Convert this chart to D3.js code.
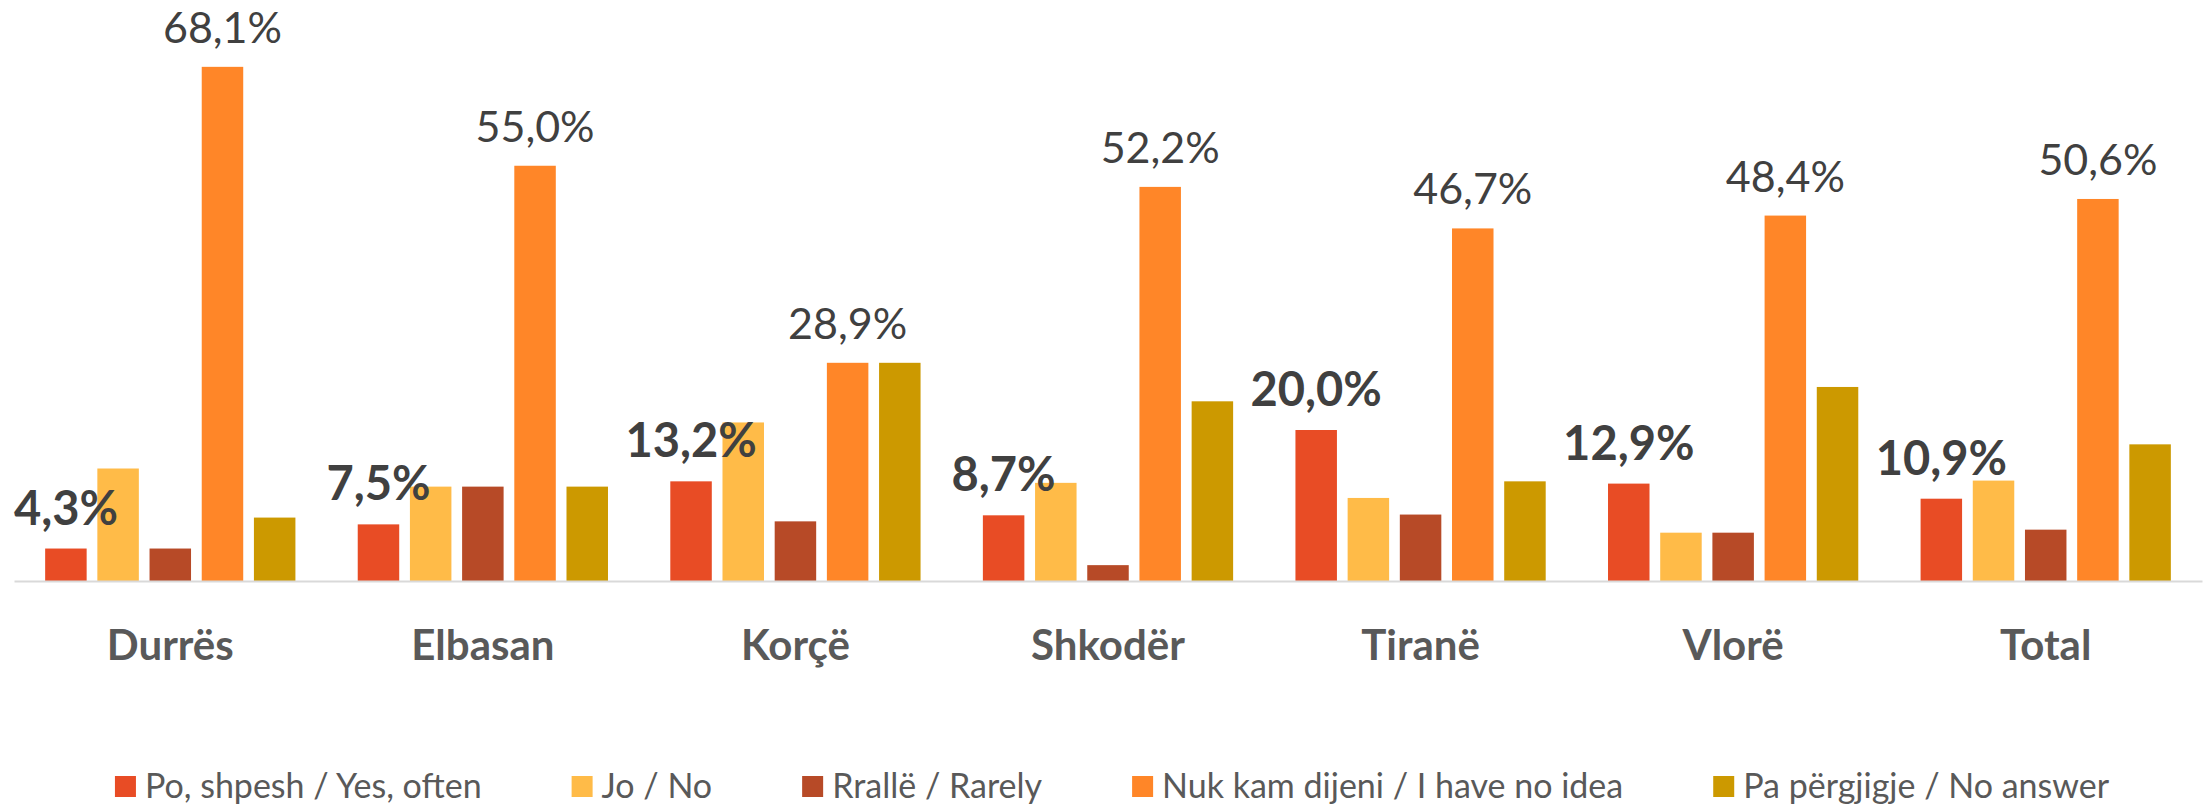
<!DOCTYPE html>
<html>
<head>
<meta charset="utf-8">
<script src="https://cdn.jsdelivr.net/npm/d3@7"></script>
<style>
  body { margin: 0; background: #fff; }
  svg { display: block; font-family: Lato, "Open Sans", sans-serif; }
</style>
</head>
<body>
<script>
// data
const cities = ["Durrës", "Elbasan", "Korçë", "Shkodër", "Tiranë", "Vlorë", "Total"]
const series = ["Po, shpesh / Yes, often", "Jo / No", "Rrallë / Rarely", "Nuk kam dijeni / I have no idea", "Pa përgjigje / No answer"]
const often   = [4.3, 7.5, 13.2, 8.7, 20.0, 12.9, 10.9]
const no      = [14.9, 12.5, 21.0, 13.0, 11.0, 6.4, 13.3]
const rarely  = [4.3, 12.5, 7.9, 2.1, 8.8, 6.4, 6.8]
const noIdea  = [68.1, 55.0, 28.9, 52.2, 46.7, 48.4, 50.6]
const noAns   = [8.4, 12.5, 28.9, 23.8, 13.2, 25.7, 18.1]
const colors  = ["#E84C25", "#FFBB48", "#B74A27", "#FF8628", "#CC9900"]

const allSeries = [often, no, rarely, noIdea, noAns]

const w = 2208
const h = 806
const base = 581

const svg = d3.select("body")
              .append("svg")
              .attr("width", w)
              .attr("height", h)

const x0 = d3.scaleBand()
             .domain(cities)
             .range([14, 2202])
const x1 = d3.scaleBand()
             .domain(series)
             .range([0, x0.bandwidth()])
             .paddingInner(0.205)
             .paddingOuter(0.597)
const y = d3.scaleLinear()
            .domain([0, 70])
            .range([base, base - 70 * 7.55])

//bars
const groups = svg.selectAll("g.city")
    .data(cities)
    .enter()
    .append("g")
    .attr("class", "city")
    .attr("transform", d => "translate(" + x0(d) + ",0)")

groups.selectAll("rect")
    .data((c, i) => series.map((s, k) => ({s: s, v: allSeries[k][i], k: k})))
    .enter()
    .append("rect")
    .attr("x", d => x1(d.s))
    .attr("y", d => y(d.v))
    .attr("width", x1.bandwidth())
    .attr("height", d => base - y(d.v))
    .style("fill", d => colors[d.k])

//labels: "no idea" series normal, "yes often" series bold
groups.append("text")
    .attr("x", x1(series[3]) + x1.bandwidth() / 2)
    .attr("y", (c, i) => y(noIdea[i]) - 24)
    .attr("text-anchor", "middle")
    .style("font-size", "43px")
    .style("fill", "#404040")
    .text((c, i) => d3.format(".1f")(noIdea[i]).replace(".", ",") + "%")

groups.append("text")
    .attr("x", x1(series[0]) + x1.bandwidth() / 2)
    .attr("y", (c, i) => y(often[i]) - 24)
    .attr("text-anchor", "middle")
    .style("font-size", "47px")
    .style("font-weight", "bold")
    .style("fill", "#404040")
    .text((c, i) => d3.format(".1f")(often[i]).replace(".", ",") + "%")

//axis
const xAxis = d3.axisBottom(x0).tickSize(0).tickPadding(0)
const ax = svg.append("g")
    .attr("transform", "translate(0," + base + ")")
    .call(xAxis)
ax.select(".domain").attr("stroke", "#D9D9D9").attr("stroke-width", 2)
ax.selectAll(".tick text")
    .attr("dy", 0)
    .attr("y", 79)
    .style("font-family", "Lato, sans-serif")
    .style("font-size", "42px")
    .style("font-weight", "bold")
    .style("fill", "#595959")

//legend
const legend = svg.append("g")
const items = legend.selectAll("g")
    .data(series)
    .enter()
    .append("g")
items.append("rect")
    .attr("width", 21)
    .attr("height", 21)
    .attr("y", 776)
    .style("fill", (d, i) => colors[i])
items.append("text")
    .attr("x", 30)
    .attr("y", 798)
    .style("font-size", "34px")
    .style("fill", "#595959")
    .text(d => d)

let pos = 0
const offs = []
items.each(function () {
    offs.push(pos)
    pos += 30 + d3.select(this).select("text").node().getComputedTextLength() + 90
})
pos -= 90
const start = 1112 - pos / 2
items.attr("transform", (d, i) => "translate(" + (start + offs[i]) + ",0)")
</script>
</body>
</html>
